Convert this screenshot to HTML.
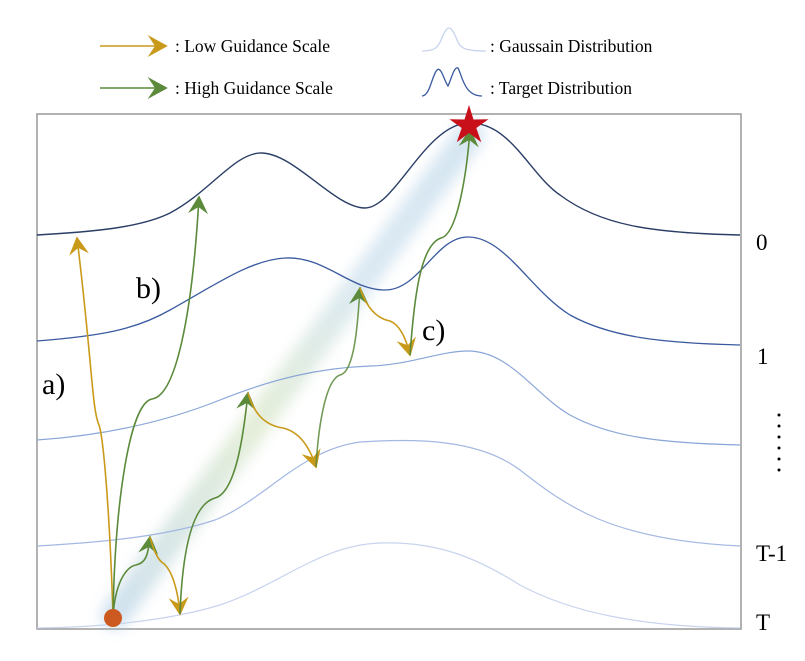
<!DOCTYPE html>
<html><head><meta charset="utf-8"><style>
html,body{margin:0;padding:0;background:#fff;}
svg{display:block;}
text{font-family:"Liberation Serif",serif;fill:#000;}
</style></head><body>
<svg width="805" height="661" viewBox="0 0 805 661" xmlns="http://www.w3.org/2000/svg">
<defs>
<marker id="ay" viewBox="0 0 12 12" refX="10" refY="6" markerWidth="20" markerHeight="20" markerUnits="userSpaceOnUse" orient="auto">
<path d="M0,0 L11,6 L0,12 L4,6 Z" fill="#c99a1a"/></marker>
<marker id="ag" viewBox="0 0 12 12" refX="10" refY="6" markerWidth="20" markerHeight="20" markerUnits="userSpaceOnUse" orient="auto">
<path d="M0,0 L11,6 L0,12 L4,6 Z" fill="#5a8a3a"/></marker>
<marker id="ayL" viewBox="0 0 12 12" refX="10" refY="6" markerWidth="22" markerHeight="22" markerUnits="userSpaceOnUse" orient="auto">
<path d="M0,0 L11,6 L0,12 L4,6 Z" fill="#c99a1a"/></marker>
<marker id="agL" viewBox="0 0 12 12" refX="10" refY="6" markerWidth="22" markerHeight="22" markerUnits="userSpaceOnUse" orient="auto">
<path d="M0,0 L11,6 L0,12 L4,6 Z" fill="#5a8a3a"/></marker>
<linearGradient id="band" x1="110" y1="620" x2="470" y2="130" gradientUnits="userSpaceOnUse">
<stop offset="0" stop-color="#9fc3e0"/><stop offset="0.4" stop-color="#c9ddb0"/><stop offset="0.7" stop-color="#b7d3e6"/><stop offset="1" stop-color="#a9cbe3"/></linearGradient>
<filter id="blur" x="-20%" y="-20%" width="140%" height="140%"><feGaussianBlur stdDeviation="7"/></filter>
</defs>

<!-- legend -->
<line x1="100" y1="46" x2="166" y2="46" stroke="#c99a1a" stroke-width="1.6" marker-end="url(#ayL)"/>
<text x="175" y="52" font-size="17.5">: Low Guidance Scale</text>
<line x1="100" y1="88" x2="166" y2="88" stroke="#5a8a3a" stroke-width="1.6" marker-end="url(#agL)"/>
<text x="175" y="94" font-size="17.5">: High Guidance Scale</text>
<path d="M422,51 C434,51 438,48 441,40 C444,32 447,28 449,28 C451,28 454,32 457,40 C460,48 464,51 486,51" fill="none" stroke="#c8d4ee" stroke-width="1.3"/>
<text x="490" y="52" font-size="17.5">: Gaussain Distribution</text>
<path d="M422,96 C430,96 432,75 437,70 C441,66 444,80 448,86 C451,80 454,66 458,68 C462,75 464,96 482,96" fill="none" stroke="#3a5aa0" stroke-width="1.3"/>
<text x="490" y="94" font-size="17.5">: Target Distribution</text>

<!-- box -->
<rect x="37" y="114" width="704" height="515" fill="none" stroke="#999" stroke-width="1.5"/>

<!-- glow band -->
<line x1="115" y1="615" x2="470" y2="135" stroke="url(#band)" stroke-width="28" stroke-linecap="round" opacity="0.5" filter="url(#blur)"/>

<!-- curves -->
<path d="M37,235 C90,232 140,228 170,213 C210,192 235,152 262,153 C295,154 335,208 365,208 C395,208 425,125 468,123 C510,121 530,175 560,195 C600,225 650,233 740,235" fill="none" stroke="#2a3e66" stroke-width="1.4"/>
<path d="M37,341 C100,336 135,330 170,310 C215,285 250,260 285,258 C325,256 350,290 385,290 C420,290 435,237 468,237 C505,237 530,290 570,315 C610,337 660,343 740,345" fill="none" stroke="#3a5aa0" stroke-width="1.3"/>
<path d="M37,440 C110,435 170,420 220,400 C275,378 320,368 370,366 C410,365 440,351 468,351 C510,351 535,395 570,415 C610,437 660,443 740,445" fill="none" stroke="#8aa6d8" stroke-width="1.2"/>
<path d="M37,546 C110,542 170,535 215,520 C265,500 300,450 360,442 C420,438 480,440 520,470 C565,505 610,540 740,546" fill="none" stroke="#a3b8e2" stroke-width="1.2"/>
<path d="M37,628 C110,627 170,620 220,605 C280,585 320,545 380,543 C440,541 480,560 520,585 C570,612 640,627 740,628" fill="none" stroke="#c8d4ee" stroke-width="1.2"/>

<!-- arrows -->
<g fill="none" stroke-width="1.6">
<path d="M113,616 C110,520 104,440 99,425 C92,410 92,360 77,238" stroke="#c99a1a" marker-end="url(#ay)"/>
<path d="M113,616 C115,500 130,403 152,399 C175,396 192,320 199,197" stroke="#5a8a3a" marker-end="url(#ag)"/>
<path d="M113,616 C116,575 130,566 136,565 C146,563 148,555 150,537" stroke="#5a8a3a" marker-end="url(#ag)"/>
<path d="M150,537 C154,552 158,560 163,563 C172,570 178,590 180,614" stroke="#c99a1a" marker-end="url(#ay)"/>
<path d="M180,614 C182,560 190,505 215,498 C238,492 245,420 248,393" stroke="#5a8a3a" marker-end="url(#ag)"/>
<path d="M248,393 C253,410 262,425 283,428 C300,432 310,448 316,467" stroke="#c99a1a" marker-end="url(#ay)"/>
<path d="M316,467 C318,430 325,380 340,375 C355,372 358,320 360,288" stroke="#5a8a3a" stroke-opacity="0.85" marker-end="url(#ag)"/>
<path d="M360,288 C365,303 374,318 390,321 C400,325 406,338 410,355" stroke="#c99a1a" marker-end="url(#ay)"/>
<path d="M410,355 C414,300 420,245 441,238 C458,234 467,170 470,130" stroke="#5a8a3a" marker-end="url(#ag)"/>
</g>

<!-- star and dot -->
<polygon points="469,105 473.5,119.5 488.5,119.3 476.3,128 481.3,142.3 469,133 456.7,142.3 461.7,128 449.5,119.3 464.5,119.5" fill="#c8101a"/>
<circle cx="113" cy="618" r="9" fill="#cc5a20"/>

<!-- labels -->
<text x="42" y="394" font-size="30">a)</text>
<text x="136" y="298" font-size="30">b)</text>
<text x="422" y="340" font-size="30">c)</text>
<text x="756" y="250" font-size="23">0</text>
<text x="757" y="364" font-size="23">1</text>
<g fill="#000"><circle cx="779" cy="415" r="1.5"/><circle cx="779" cy="426" r="1.5"/><circle cx="779" cy="437" r="1.5"/><circle cx="779" cy="448" r="1.5"/><circle cx="779" cy="459" r="1.5"/><circle cx="779" cy="470" r="1.5"/></g>
<text x="756" y="561" font-size="23">T-1</text>
<text x="756" y="630" font-size="23">T</text>
</svg>
</body></html>
